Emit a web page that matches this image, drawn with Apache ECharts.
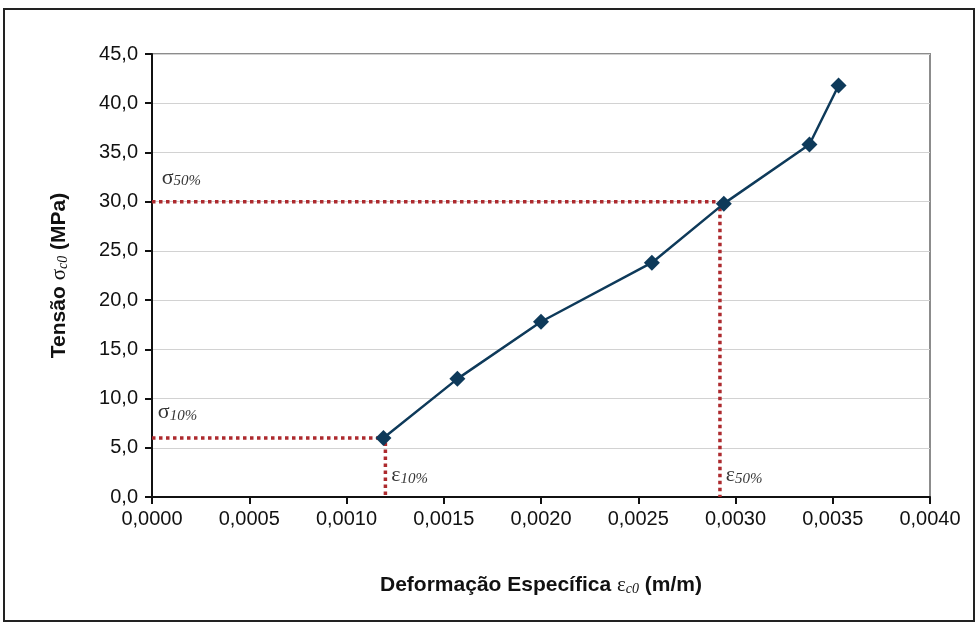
<!DOCTYPE html>
<html>
<head>
<meta charset="utf-8">
<script src="https://cdn.jsdelivr.net/npm/echarts@6/dist/echarts.min.js"></script>
<style>html,body{margin:0;padding:0;background:#fff}#c{width:978px;height:627px}</style>
</head>
<body>
<div id="c"></div>
<script>
// Data
const strainValues = [0.00119, 0.00157, 0.00200, 0.00257, 0.00294, 0.00338, 0.00353];
const stressValues = [6.0, 12.0, 17.8, 23.8, 29.8, 35.8, 41.8];
// Reference lines (sigma 10% / sigma 50%)
const ref10 = { strain: 0.00120, stress: 6.0 };
const ref50 = { strain: 0.00292, stress: 30.0 };
const xTicks = { min: 0, max: 0.004, interval: 0.0005 };
const yTicks = { min: 0, max: 45, interval: 5 };

const chart = echarts.init(document.getElementById('c'), null, { renderer: 'canvas' });
const red = '#ad2a2e';
const navy = '#0e3a5a';
const dotted = { color: red, width: 3.5, type: [3.5, 3.5] };
const fmt = (v, d) => v.toFixed(d).replace('.', ',');
const sans = 'Liberation Sans, Arial';
const serif = 'Liberation Serif, Times New Roman';

const annotations = [
  { value: [0.00005, 32.4], name: 'σ', sub: '50%' },
  { value: [0.00003, 8.6], name: 'σ', sub: '10%' },
  { value: [ref10.strain + 0.00003, 2.2], name: 'ε', sub: '10%' },
  { value: [ref50.strain + 0.00003, 2.2], name: 'ε', sub: '50%' }
];

chart.setOption({
  animation: false,
  backgroundColor: '#fff',
  grid: { left: 152, right: 48, top: 54, bottom: 130, show: true, borderColor: '#8c8c8c', borderWidth: 2, backgroundColor: 'transparent' },
  graphic: [{
    type: 'rect', shape: { x: 4, y: 9, width: 970, height: 612 },
    style: { fill: 'none', stroke: '#222', lineWidth: 2 }, z: -1
  }],
  xAxis: {
    type: 'value', min: xTicks.min, max: xTicks.max, interval: xTicks.interval,
    axisLine: { show: true, onZero: false, lineStyle: { color: '#111', width: 2 } },
    axisTick: { show: true, length: 7, lineStyle: { color: '#111', width: 2 } },
    splitLine: { show: false },
    axisLabel: { color: '#111', fontSize: 20, fontFamily: sans, margin: 12, formatter: v => fmt(v, 4) },
    name: '{b|Deformação Específica }{e|ε}{s|c0}{b| (m/m)}',
    nameLocation: 'middle', nameGap: 78,
    nameTextStyle: {
      rich: {
        b: { fontSize: 21, fontWeight: 'bold', fontFamily: sans, color: '#111' },
        e: { fontSize: 21, fontFamily: serif, color: '#111' },
        s: { fontSize: 14, fontStyle: 'italic', fontFamily: serif, color: '#111', padding: [7, 0, 0, 0] }
      }
    }
  },
  yAxis: {
    type: 'value', min: yTicks.min, max: yTicks.max, interval: yTicks.interval,
    axisLine: { show: true, onZero: false, lineStyle: { color: '#111', width: 2 } },
    axisTick: { show: true, length: 7, lineStyle: { color: '#111', width: 2 } },
    splitLine: { show: true, lineStyle: { color: '#d2d2d2', width: 1 } },
    axisLabel: { color: '#111', fontSize: 20, fontFamily: sans, margin: 14, formatter: v => fmt(v, 1) },
    name: '{b|Tensão }{e|σ}{s|c0}{b| (MPa)}',
    nameLocation: 'middle', nameGap: 82, nameRotate: 90,
    nameTextStyle: {
      rich: {
        b: { fontSize: 21, fontWeight: 'bold', fontFamily: sans, color: '#111' },
        e: { fontSize: 21, fontFamily: serif, color: '#111' },
        s: { fontSize: 14, fontStyle: 'italic', fontFamily: serif, color: '#111', padding: [7, 0, 0, 0] }
      }
    }
  },
  series: [
    { type: 'line', data: [[0, ref10.stress], [ref10.strain, ref10.stress], [ref10.strain, 0]], symbol: 'none', lineStyle: dotted, z: 2 },
    { type: 'line', data: [[0, ref50.stress], [ref50.strain, ref50.stress], [ref50.strain, 0]], symbol: 'none', lineStyle: dotted, z: 2 },
    {
      type: 'line', data: strainValues.map((x, i) => [x, stressValues[i]]),
      symbol: 'diamond', symbolSize: 16, showAllSymbol: true,
      lineStyle: { color: navy, width: 2.5 }, itemStyle: { color: navy }, z: 3
    },
    {
      type: 'scatter', data: annotations, symbolSize: 0, z: 4,
      label: {
        show: true, position: 'right', distance: 0,
        formatter: p => '{e|' + p.data.name + '}{s|' + p.data.sub + '}',
        rich: {
          e: { fontSize: 22, fontFamily: serif, color: '#000' },
          s: { fontSize: 15, fontStyle: 'italic', fontFamily: serif, color: '#000', padding: [7, 0, 0, 0] }
        }
      }
    }
  ]
});
</script>
</body>
</html>
